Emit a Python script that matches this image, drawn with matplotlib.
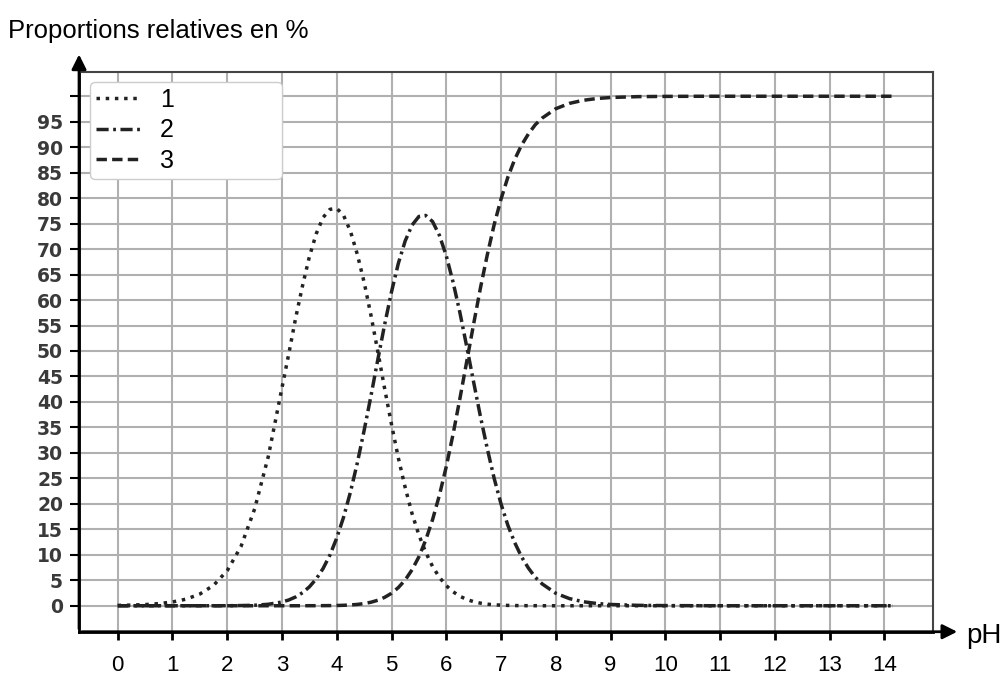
import matplotlib.pyplot as plt

plt.rcParams['font.family'] = ['Liberation Sans', 'DejaVu Sans']

# pH values and relative proportions (%)
ph = [0, 0.25, 0.5, 0.75, 1, 1.25, 1.5, 1.75, 2, 2.25, 2.5, 2.75,
      3, 3.125, 3.25, 3.375, 3.5, 3.625, 3.75, 3.875, 4, 4.125,
      4.25, 4.375, 4.5, 4.625, 4.75, 4.875, 5, 5.125, 5.25, 5.375,
      5.5, 5.625, 5.75, 5.875, 6, 6.125, 6.25, 6.375, 6.5, 6.625,
      6.75, 6.875, 7, 7.125, 7.25, 7.375, 7.5, 7.625, 7.75,
      8, 8.25, 8.5, 8.75, 9, 9.5, 10, 10.5, 11, 11.5, 12, 12.5, 13, 13.5, 14, 14.15]

espece1 = [0.07, 0.13, 0.23, 0.42, 0.74, 1.3, 2.3, 4.0, 6.9, 11.6, 19.0, 29.3,
           42.8, 49.5, 56.5, 62.8, 68.5, 73.0, 76.2, 77.8, 78.0, 76.6,
           73.5, 69.0, 63.5, 57.0, 49.9, 42.6, 35.6, 29.0, 23.2, 18.1,
           13.9, 10.5, 7.7, 5.58, 3.95, 2.74, 1.86, 1.23, 0.80, 0.51,
           0.31, 0.19, 0.12, 0.07, 0.04, 0.02, 0.01, 0.01, 0,
           0, 0, 0, 0, 0, 0, 0, 0, 0, 0, 0, 0, 0, 0, 0, 0]

espece2 = [0, 0, 0, 0, 0, 0, 0, 0, 0.01, 0.04, 0.1, 0.29,
           0.73, 1.14, 1.73, 2.56, 3.71, 5.26, 7.3, 9.94, 13.3, 17.4,
           22.3, 28.0, 34.4, 41.2, 48.3, 55.2, 61.6, 67.2, 71.6, 74.7,
           76.4, 76.6, 75.4, 72.7, 68.7, 63.5, 57.5, 50.8, 43.9, 37.1,
           30.8, 25.0, 20.0, 15.8, 12.4, 9.6, 7.4, 5.6, 4.3,
           2.45, 1.4, 0.79, 0.44, 0.25, 0.08, 0.03, 0.01, 0, 0, 0, 0, 0, 0, 0, 0]

espece3 = [0, 0, 0, 0, 0, 0, 0, 0, 0, 0, 0, 0,
           0, 0, 0, 0, 0.01, 0.01, 0.02, 0.03, 0.05, 0.09,
           0.16, 0.26, 0.43, 0.69, 1.08, 1.65, 2.45, 3.57, 5.06, 7.05,
           9.6, 12.9, 16.9, 21.7, 27.3, 33.7, 40.7, 48.0, 55.3, 62.4,
           68.9, 74.8, 79.8, 84.1, 87.6, 90.4, 92.6, 94.4, 95.7,
           97.55, 98.6, 99.2, 99.55, 99.75, 99.92, 99.97, 99.99,
           100, 100, 100, 100, 100, 100, 100, 100]

xticks = list(range(0, 15))
yticks = list(range(0, 101, 5))
ylabels = [str(v) if v < 100 else '' for v in yticks]

fig = plt.figure(figsize=(10.08, 6.75), dpi=100)
ax = fig.add_axes([0.0784, 0.0641, 0.8472, 0.8288])

col = '#222222'
ax.plot(ph, espece1, color=col, lw=2.5, linestyle=(0, (1, 1.65)), label='1')
ax.plot(ph, espece2, color=col, lw=2.5, linestyle=(0, (3.5, 1.3, 0.8, 1.3)), label='2')
ax.plot(ph, espece3, color=col, lw=2.5, linestyle=(0, (3.0, 1.5)), label='3')

ax.set_xlim(-0.707, 14.89)
ax.set_ylim(-5.1, 104.7)
ax.set_xticks(xticks)
ax.set_yticks(yticks)
ax.set_yticklabels(ylabels, family='DejaVu Sans', weight='bold')
ax.grid(color='#b0b0b0', lw=1.5)
ax.set_axisbelow(True)

for s in ['top', 'right']:
    ax.spines[s].set_color('#444444')
    ax.spines[s].set_linewidth(1.5)
for s in ['left', 'bottom']:
    ax.spines[s].set_color('black')
    ax.spines[s].set_linewidth(2)

ax.tick_params(axis='y', length=6.5, width=1.5, pad=5, labelsize=13.5, labelcolor='#3a3a3a')
ax.tick_params(axis='x', length=6, width=2, pad=11, labelsize=16)

# axis arrows
ax.annotate('', xy=(1.0316, 0), xytext=(0, 0), xycoords='axes fraction',
            arrowprops=dict(arrowstyle='-|>', color='black', lw=2, mutation_scale=22),
            annotation_clip=False)
ax.annotate('', xy=(0, 1.0368), xytext=(0, 0), xycoords='axes fraction',
            arrowprops=dict(arrowstyle='-|>', color='black', lw=2, mutation_scale=22),
            annotation_clip=False)

leg = ax.legend(loc='upper left', bbox_to_anchor=(0.013, 0.8, 0.2248, 0.183),
                mode='expand', borderaxespad=0, fontsize=18, handlelength=1.75,
                handletextpad=0.8, labelspacing=0.25, borderpad=0.25, fancybox=True,
                framealpha=1, edgecolor='#cccccc')

fig.text(0.008, 0.9437, 'Proportions relatives en %', fontsize=18.5, va='baseline')
fig.text(0.959, 0.0474, 'pH', fontsize=20, va='baseline')

fig.savefig('out.png', dpi=100)
